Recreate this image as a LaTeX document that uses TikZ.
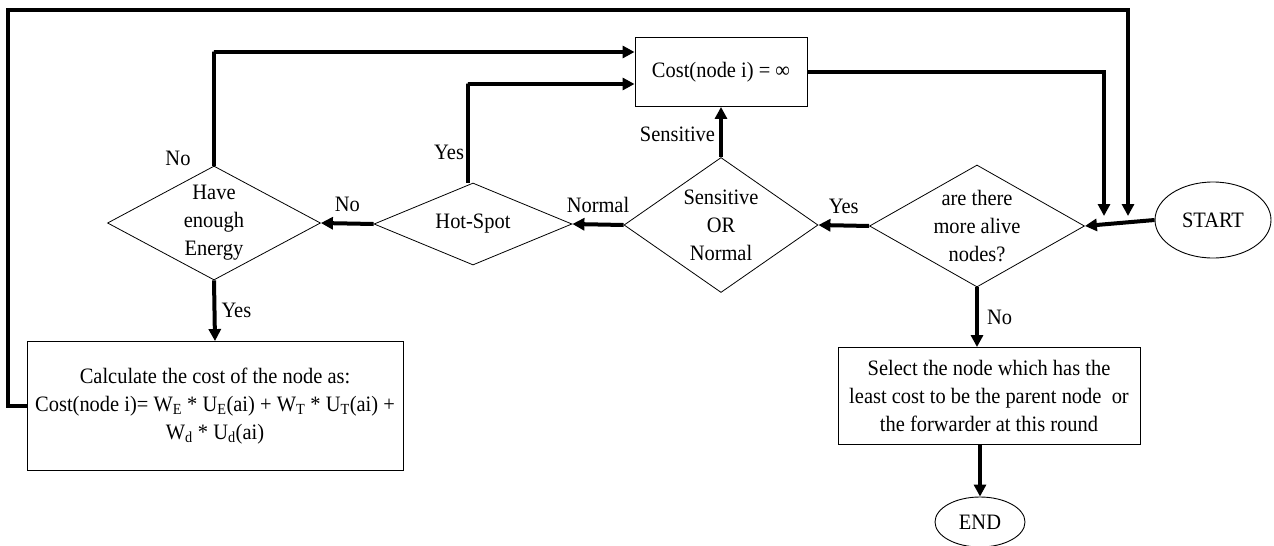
\documentclass[tikz,border=0pt]{standalone}
\usepackage{fontspec}
\setmainfont{Liberation Serif}[FakeStretch=0.93]
\usetikzlibrary{shapes.geometric,arrows.meta}
\begin{document}
\begin{tikzpicture}[x=1pt,y=-1pt,
  every node/.style={font=\fontsize{22}{28}\selectfont},
  flow/.style={line width=4pt,-{Triangle[length=12pt,width=12pt]}},
  dia/.style={draw,line width=0.8pt,shape=diamond,inner sep=0pt},
  box/.style={draw,line width=0.9pt,inner sep=0pt,align=center},
  term/.style={draw,line width=0.9pt,ellipse,inner sep=0pt},
  lab/.style={inner sep=0pt}]
\useasboundingbox (0,0) rectangle (1274,546);
% nodes
\node[term,minimum width=116,minimum height=76] (start) at (1213,220) {START};
\node[dia,minimum width=215,minimum height=122,label={[align=center]center:are there\\more alive\\nodes?}] (alive) at (977,226) {};
\node[dia,minimum width=194,minimum height=135,label={[align=center]center:Sensitive\\OR\\Normal}] (sens) at (721,225) {};
\node[box,minimum width=172,minimum height=69] (cost) at (721,72) {Cost(node i) = ∞};
\node[dia,minimum width=198,minimum height=82,label={center:Hot-Spot}] (hot) at (473,224) {};
\node[dia,minimum width=213,minimum height=114,label={[align=center]center:Have\\enough\\Energy}] (energy) at (214,223) {};
\node[box,minimum width=376,minimum height=129] (calc) at (215,406) {Calculate the cost of the node as:\\Cost(node i)= W\textsubscript{E} * U\textsubscript{E}(ai) + W\textsubscript{T} * U\textsubscript{T}(ai) +\\W\textsubscript{d} * U\textsubscript{d}(ai)};
\node[box,minimum width=302,minimum height=97] (select) at (989,396) {Select the node which has the\\least cost to be the parent node\ \ or\\the forwarder at this round};
\node[term,minimum width=90,minimum height=50] (end) at (980,522) {END};
% coordinates
\coordinate (j1) at (1104,216);
\coordinate (j2) at (1128,216);
% connectors
\draw[flow] (start.west) -- (alive.east);
\draw[flow] (alive.west) -- node[lab,above=10pt]{Yes} (sens.east);
\draw[flow] (sens.north) -- node[lab,left=4pt,pos=0.45]{Sensitive} (cost.south);
\draw[flow] (sens.west) -- node[lab,above=10pt]{Normal} (hot.east);
\draw[flow] (hot.west) -- node[lab,above=10pt]{No} (energy.east);
\draw[flow] ([xshift=-5pt]hot.north) -- node[lab,left=2pt,pos=0.3]{Yes} ++(0,-99) |- ([yshift=-12pt]cost.west);
\draw[flow] (energy.north) -- ++(0,-114) |- ([yshift=20pt]cost.west);
\node[lab] (noE) at (178,158) {No};
\draw[flow] (energy.south) -- node[lab,right=5pt]{Yes} (calc.north);
\draw[flow] (cost.east) -| (j1);
\draw[flow] (calc.west) -- ++(-19,0) |- (8,10) -| (j2);
\draw[flow] (alive.south) -- node[lab,right=8pt]{No} (alive.south |- select.north);
\draw[flow] ([xshift=-9pt]select.south) -- (end.north);
\end{tikzpicture}
\end{document}
